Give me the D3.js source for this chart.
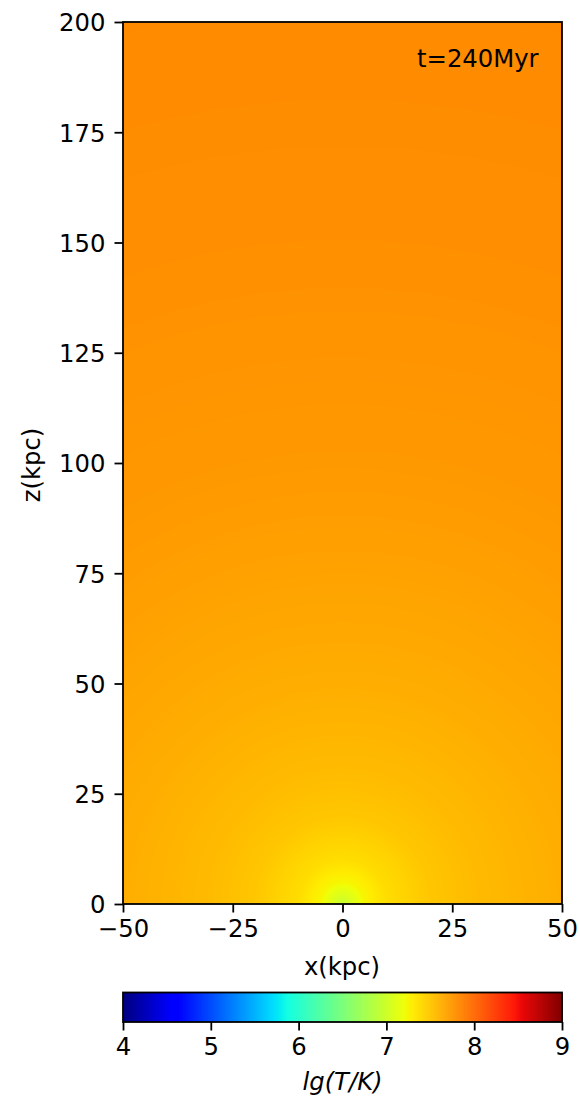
<!DOCTYPE html>
<html>
<head>
<meta charset="utf-8">
<script src="https://cdn.jsdelivr.net/npm/d3@7"></script>
<style>
  html, body { margin: 0; padding: 0; background: #fff; }
  svg { display: block; }
  text { font-family: "DejaVu Sans", sans-serif; fill: #000; }
</style>
</head>
<body>
<svg id="fig" width="580" height="1099"></svg>
<script>
// Radial temperature profile of the hot halo at t = 240 Myr
const radiusKpc = [0, 2, 5, 10, 20, 30, 50, 75, 100, 150, 210];
const lgTemp    = [6.95, 7.08, 7.25, 7.38, 7.5, 7.56, 7.63, 7.69, 7.74, 7.79, 7.82];

const xTicks = [-50, -25, 0, 25, 50];
const zTicks = [0, 25, 50, 75, 100, 125, 150, 175, 200];
const cbarTicks = [4, 5, 6, 7, 8, 9];
const xDomain = [-50, 50];
const zDomain = [0, 200];
const tempDomain = [4, 9];
const timeLabel = "t=240Myr";

const svg = d3.select("#fig");
const fontSize = 24.3;

// plot area
const L = 123, R = 562, T = 22, B = 904;
const x = d3.scaleLinear().domain(xDomain).range([L, R]);
const z = d3.scaleLinear().domain(zDomain).range([B, T]);
const profile = d3.scaleLinear().domain(radiusKpc).range(lgTemp).clamp(true);

// matplotlib "jet" colormap, channel by channel
const jr = d3.scaleLinear().domain([0, 0.35, 0.66, 0.89, 1]).range([0, 0, 1, 1, 0.5]).clamp(true);
const jg = d3.scaleLinear().domain([0, 0.125, 0.375, 0.64, 0.91, 1]).range([0, 0, 1, 1, 0, 0]).clamp(true);
const jb = d3.scaleLinear().domain([0, 0.11, 0.34, 0.65, 1]).range([0.5, 1, 1, 0, 0]).clamp(true);
const norm = d3.scaleLinear().domain(tempDomain).range([0, 1]).clamp(true);
function jetRGB(v) { return [jr(v) * 255, jg(v) * 255, jb(v) * 255]; }

// temperature map rendered into an image
const W = Math.round(R - L), H = Math.round(B - T);
const cv = document.createElement("canvas");
cv.width = W; cv.height = H;
const ctx = cv.getContext("2d");
const img = ctx.createImageData(W, H);
for (let j = 0; j < H; j++) {
  const zz = z.invert(T + j + 0.5);
  for (let i = 0; i < W; i++) {
    const xx = x.invert(L + i + 0.5);
    const r = Math.hypot(xx, zz);
    const c = jetRGB(norm(profile(r)));
    const k = 4 * (j * W + i);
    img.data[k] = c[0]; img.data[k + 1] = c[1]; img.data[k + 2] = c[2]; img.data[k + 3] = 255;
  }
}
ctx.putImageData(img, 0, 0);
svg.append("image")
  .attr("x", L).attr("y", T).attr("width", W).attr("height", H)
  .attr("preserveAspectRatio", "none")
  .attr("href", cv.toDataURL());

// axes
const xAxis = svg.append("g").attr("transform", `translate(0,${B})`)
  .call(d3.axisBottom(x).tickValues(xTicks).tickSize(8.5).tickPadding(7).tickFormat(d => d < 0 ? "\u2212" + Math.abs(d) : d));
const zAxis = svg.append("g").attr("transform", `translate(${L},0)`)
  .call(d3.axisLeft(z).tickValues(zTicks).tickSize(8.5).tickPadding(9));
[xAxis, zAxis].forEach(g => {
  g.select(".domain").remove();
  g.selectAll(".tick line").attr("stroke", "#000").attr("stroke-width", 1.8);
  g.selectAll(".tick text").attr("font-size", fontSize).attr("font-family", "DejaVu Sans").attr("fill", "#000");
});
xAxis.selectAll(".tick text").attr("dy", "0.72em");
zAxis.selectAll(".tick text").attr("dy", "0.36em");

svg.append("rect").attr("x", L).attr("y", T).attr("width", R - L).attr("height", B - T)
  .attr("fill", "none").attr("stroke", "#000").attr("stroke-width", 1.8);

svg.append("text").attr("x", 342).attr("y", 975).attr("text-anchor", "middle")
  .attr("font-size", fontSize).text("x(kpc)");
svg.append("text").attr("transform", "translate(40,465) rotate(-90)").attr("text-anchor", "middle")
  .attr("font-size", fontSize).text("z(kpc)");
svg.append("text").attr("x", 417).attr("y", 66.5)
  .attr("font-size", fontSize).text(timeLabel);

// colorbar
const cT = 992.5, cB = 1022;
const cx = d3.scaleLinear().domain(tempDomain).range([L, R]);
const nSteps = 440;
const steps = d3.range(nSteps).map(i => tempDomain[0] + (i + 0.5) * (tempDomain[1] - tempDomain[0]) / nSteps);
const stepW = (R - L) / nSteps;
svg.append("g").selectAll("rect").data(steps).join("rect")
  .attr("x", d => cx(d) - stepW / 2).attr("y", cT)
  .attr("width", stepW + 0.6).attr("height", cB - cT)
  .attr("fill", d => { const c = jetRGB(norm(d)); return d3.rgb(c[0], c[1], c[2]).formatHex(); });
svg.append("rect").attr("x", L).attr("y", cT).attr("width", R - L).attr("height", cB - cT)
  .attr("fill", "none").attr("stroke", "#000").attr("stroke-width", 1.8);
const cAxis = svg.append("g").attr("transform", `translate(0,${cB})`)
  .call(d3.axisBottom(cx).tickValues(cbarTicks).tickSize(8.5).tickPadding(7).tickFormat(d3.format("d")));
cAxis.select(".domain").remove();
cAxis.selectAll(".tick line").attr("stroke", "#000").attr("stroke-width", 1.8);
cAxis.selectAll(".tick text").attr("font-size", fontSize).attr("font-family", "DejaVu Sans").attr("fill", "#000").attr("dy", "0.72em");
svg.append("text").attr("x", 342.5).attr("y", 1090).attr("text-anchor", "middle")
  .attr("font-size", fontSize).attr("font-style", "italic").text("lg(T/K)");
</script>
</body>
</html>
